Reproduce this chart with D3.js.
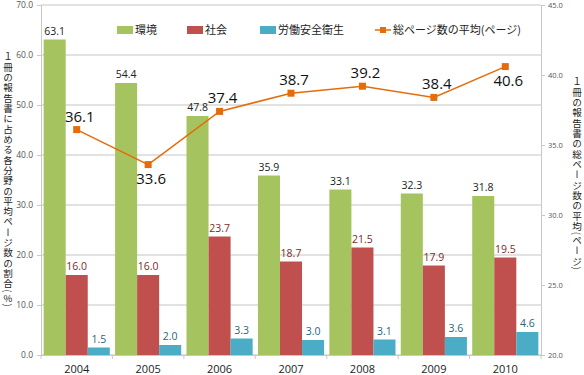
<!DOCTYPE html>
<html><head><meta charset="utf-8">
<script src="https://cdn.jsdelivr.net/npm/d3@7"></script>
<style>
body{margin:0;background:#fff;position:relative;width:584px;height:375px;overflow:hidden;}
svg{position:absolute;left:0;top:0;}
text{font-family:"Open Sans","Noto Sans CJK JP",sans-serif;}
.jp{font-family:"Noto Sans CJK JP",sans-serif;}
.vt{position:absolute;writing-mode:vertical-rl;text-orientation:mixed;font-family:"Noto Sans CJK JP",sans-serif;
  font-size:9.6px;line-height:12px;width:12px;letter-spacing:0.7px;color:#222;white-space:nowrap;}
.up{text-orientation:upright;}
</style></head><body>
<svg id="c" width="584" height="375"></svg>
<script>
const years = ["2004","2005","2006","2007","2008","2009","2010"];
const envValues = [63.1,54.4,47.8,35.9,33.1,32.3,31.8];
const socValues = [16.0,16.0,23.7,18.7,21.5,17.9,19.5];
const safetyValues = [1.5,2.0,3.3,3.0,3.1,3.6,4.6];
const pageAvg = [36.1,33.6,37.4,38.7,39.2,38.4,40.6];
const leftTicks = [0,10,20,30,40,50,60,70];
const rightTicks = [20,25,30,35,40,45];
const seriesNames = ["環境","社会","労働安全衛生","総ページ数の平均(ページ)"];
const leftTitle = "１冊の報告書に占める各分野の平均ページ数の割合(%)";
const rightTitle = "１冊の報告書の総ページ数の平均(ページ)";

const svg = d3.select("#c");
const L=41, R=541, T=5, B=355;
const x = d3.scaleBand().domain(years).range([L,R]).paddingInner(0).paddingOuter(0);
const yL = d3.scaleLinear().domain([0,70]).range([B,T]);
const yR = d3.scaleLinear().domain([20,45]).range([B,T]);

// gridlines
svg.append("g").selectAll("line").data(leftTicks).join("line")
  .attr("x1",L).attr("x2",R).attr("y1",d=>yL(d)).attr("y2",d=>yL(d))
  .attr("stroke","#d9d9d9").attr("stroke-width",1.3);

// axes
const axL = svg.append("g").attr("transform",`translate(${L},0)`)
  .call(d3.axisLeft(yL).tickValues(leftTicks).tickFormat(d3.format(".1f")).tickSize(4).tickPadding(4));
const axR = svg.append("g").attr("transform",`translate(${R},0)`)
  .call(d3.axisRight(yR).tickValues(rightTicks).tickFormat(d3.format(".1f")).tickSize(4).tickPadding(3));
const axB = svg.append("g").attr("transform",`translate(0,${B})`)
  .call(d3.axisBottom(x).tickSize(0).tickPadding(10));
[axL,axR,axB].forEach(a=>{a.select(".domain").attr("stroke","#c8c8c8");a.selectAll(".tick line").attr("stroke","#c8c8c8");});
axL.selectAll("text").attr("font-size",8.5).attr("fill","#555");
axR.selectAll("text").attr("font-size",7.5).attr("fill","#555");
axB.selectAll("text").attr("font-size",11).attr("fill","#222");
const seps = d3.range(years.length+1).map(i=>L+x.step()*i);
svg.append("g").selectAll("line").data(seps).join("line")
  .attr("x1",d=>d).attr("x2",d=>d).attr("y1",B).attr("y2",B+4).attr("stroke","#c8c8c8");

// bars
const sub = d3.scaleBand().domain([0,1,2]).range([0,x.bandwidth()]).paddingOuter(0.12).paddingInner(0);
const barSeries = [
  {vals:envValues, color:"#a5c45f", lab:"#222"},
  {vals:socValues, color:"#c0504d", lab:"#7b2b29"},
  {vals:safetyValues, color:"#4bacc6", lab:"#2d6479"}
];
barSeries.forEach((s,si)=>{
  const g = svg.append("g");
  g.selectAll("rect").data(years).join("rect")
    .attr("x",d=>x(d)+sub(si)).attr("width",sub.bandwidth())
    .attr("y",(d,i)=>yL(s.vals[i])).attr("height",(d,i)=>B-yL(s.vals[i]))
    .attr("fill",s.color);
  g.selectAll("text").data(years).join("text")
    .attr("x",d=>x(d)+sub(si)+sub.bandwidth()/2)
    .attr("y",(d,i)=>yL(s.vals[i])-5)
    .attr("text-anchor","middle").attr("font-size",10.5).attr("fill",s.lab)
    .text((d,i)=>s.vals[i].toFixed(1));
});

// line
const lineColor = "#e46c0a";
const cx = d=>x(d)+x.bandwidth()/2;
svg.append("path").datum(years)
  .attr("d",d3.line().x(d=>cx(d)).y((d,i)=>yR(pageAvg[i])))
  .attr("fill","none").attr("stroke",lineColor).attr("stroke-width",1.5);
svg.append("g").selectAll("rect").data(years).join("rect")
  .attr("x",d=>cx(d)-3.5).attr("y",(d,i)=>yR(pageAvg[i])-3.5)
  .attr("width",7).attr("height",7).attr("fill",lineColor);
const below = [false,true,false,false,false,false,true];
svg.append("g").selectAll("text").data(years).join("text")
  .attr("x",d=>cx(d)+3)
  .attr("y",(d,i)=>below[i]? yR(pageAvg[i])+19 : yR(pageAvg[i])-8)
  .attr("text-anchor","middle").attr("font-size",15).attr("fill","#111")
  .text((d,i)=>pageAvg[i].toFixed(1));

// legend
const lg = svg.append("g").attr("class","jp");
const legX = [117,187,260,375];
seriesNames.forEach((n,i)=>{
  if(i<3){
    lg.append("rect").attr("x",legX[i]).attr("y",26).attr("width",16).attr("height",8).attr("fill",barSeries[i].color);
  } else {
    lg.append("line").attr("x1",legX[i]).attr("x2",legX[i]+16).attr("y1",30).attr("y2",30).attr("stroke",lineColor).attr("stroke-width",1.5);
    lg.append("rect").attr("x",legX[i]+5).attr("y",27).attr("width",6).attr("height",6).attr("fill",lineColor);
  }
  lg.append("text").attr("x",legX[i]+18).attr("y",34).attr("font-size",11).attr("fill","#222")
    .attr("class","jp").text(n);
});

// vertical axis titles (HTML vertical writing mode)
function vTitle(str, cxp, y0){
  const d = d3.select("body").append("div").attr("class","vt")
    .style("left",(cxp-6)+"px").style("top",y0+"px");
  Array.from(str).forEach(ch=>{
    const sp = d.append("span").text(ch);
    if(ch==="%") sp.attr("class","up");
  });
}
vTitle(leftTitle, 8, 52);
vTitle(rightTitle, 577, 77);
</script>
</body></html>
